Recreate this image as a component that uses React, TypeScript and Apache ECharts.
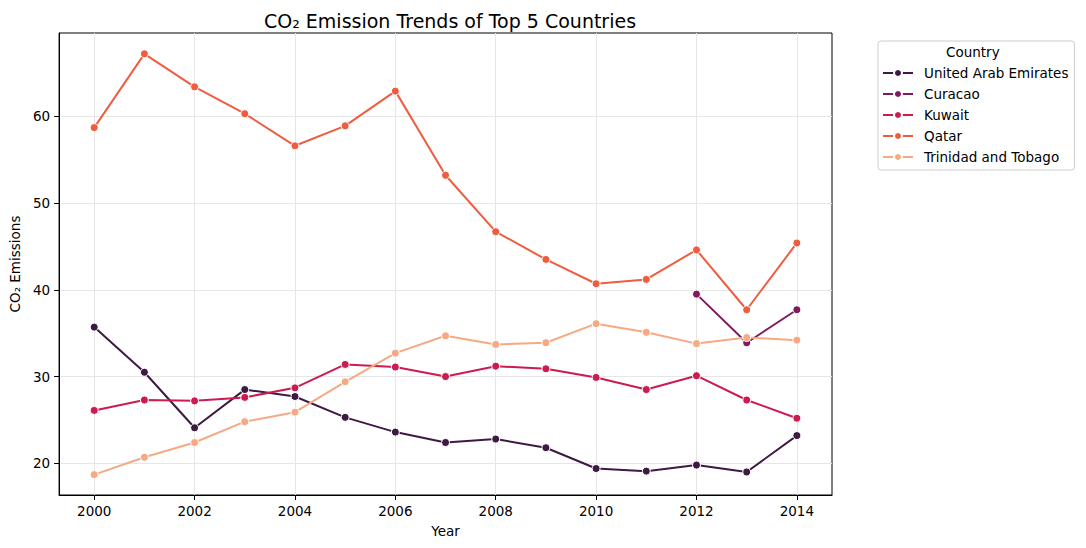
import React, { useEffect, useRef } from "react";
import * as echarts from "echarts";

const years = [2000, 2001, 2002, 2003, 2004, 2005, 2006, 2007, 2008, 2009, 2010, 2011, 2012, 2013, 2014];
const countries = ["United Arab Emirates", "Curacao", "Kuwait", "Qatar", "Trinidad and Tobago"];
const uae = [35.7, 30.5, 24.1, 28.5, 27.7, 25.3, 23.6, 22.4, 22.8, 21.8, 19.4, 19.1, 19.8, 19.0, 23.2];
const curacao = [null, null, null, null, null, null, null, null, null, null, null, null, 39.5, 33.9, 37.7];
const kuwait = [26.1, 27.3, 27.2, 27.6, 28.7, 31.4, 31.1, 30.0, 31.2, 30.9, 29.9, 28.5, 30.1, 27.3, 25.2];
const qatar = [58.7, 67.2, 63.4, 60.3, 56.6, 58.9, 62.9, 53.2, 46.7, 43.5, 40.7, 41.2, 44.6, 37.7, 45.4];
const trinidad = [18.7, 20.7, 22.4, 24.8, 25.9, 29.4, 32.7, 34.7, 33.7, 33.9, 36.1, 35.1, 33.8, 34.5, 34.2];
const colors = ["#3e1a43", "#7e1c5b", "#cb1b4f", "#ef5d41", "#f6a982"];
const xTicks = [2000, 2002, 2004, 2006, 2008, 2010, 2012, 2014];
const yTicks = [20, 30, 40, 50, 60];

const FONT = "DejaVu Sans";

export default function App() {
  const ref = useRef<HTMLDivElement>(null);
  useEffect(() => {
    if (!ref.current) return;
    const chart = echarts.init(ref.current, undefined, { renderer: "svg" });
    const allValues = [uae, curacao, kuwait, qatar, trinidad];
    const series = countries.map((name, i) => ({
      name,
      type: "line",
      data: years
        .map((y, j) => [y, allValues[i][j]])
        .filter((p) => p[1] !== null),
      symbol: "circle",
      symbolSize: 8,
      showSymbol: true,
      color: colors[i],
      lineStyle: { width: 2, color: colors[i] },
      itemStyle: { color: colors[i], borderColor: "#ffffff", borderWidth: 1 },
      emphasis: { disabled: true },
      z: 3,
    }));
    chart.setOption({
      animation: false,
      backgroundColor: "#ffffff",
      textStyle: { fontFamily: FONT },
      title: {
        text: "CO₂ Emission Trends of Top 5 Countries",
        left: 445,
        textAlign: "center",
        top: 6,
        textStyle: { fontFamily: FONT, fontSize: 19, fontWeight: "normal", color: "#000" },
      },
      grid: {
        left: 57.5,
        right: 254,
        top: 33,
        bottom: 53,
        show: true,
        borderColor: "#000",
        borderWidth: 1,
        backgroundColor: "transparent",
      },
      legend: {
        orient: "vertical",
        left: 878,
        top: 41,
        padding: [25, 6, 6, 4],
        itemWidth: 30,
        itemHeight: 10,
        itemGap: 7,
        borderColor: "#cccccc",
        borderWidth: 1,
        borderRadius: 3,
        backgroundColor: "rgba(255,255,255,0.8)",
        data: countries,
        textStyle: { fontFamily: FONT, fontSize: 13.5, color: "#000", padding: [0, 0, 0, 6] },
      },
      graphic: [
        {
          type: "text",
          left: 946,
          top: 45,
          style: { text: "Country", fontFamily: FONT, fontSize: 13.5, fill: "#000" },
          z: 10,
        },
      ],
      xAxis: {
        type: "value",
        min: 1999.3,
        max: 2014.7,
        splitNumber: 8,
        minInterval: 2,
        maxInterval: 2,
        name: "Year",
        nameLocation: "middle",
        nameGap: 29,
        nameTextStyle: { fontFamily: FONT, fontSize: 13.5, color: "#000" },
        axisLine: { show: true, lineStyle: { color: "#000", width: 1 } },
        axisTick: { show: true, length: 5, lineStyle: { color: "#000" }, customValues: xTicks },
        axisLabel: {
          fontFamily: FONT,
          fontSize: 13.5,
          color: "#000",
          margin: 9,
          customValues: xTicks,
          formatter: (v: number) => String(v),
        },
        splitLine: { show: true, lineStyle: { color: "#e6e6e6", width: 1 }, customValues: xTicks },
      },
      yAxis: {
        type: "value",
        min: 16.35,
        max: 69.6,
        splitNumber: 5,
        minInterval: 10,
        maxInterval: 10,
        name: "CO₂ Emissions",
        nameLocation: "middle",
        nameGap: 34,
        nameTextStyle: { fontFamily: FONT, fontSize: 13.5, color: "#000" },
        axisLine: { show: true, lineStyle: { color: "#000", width: 1 } },
        axisTick: { show: true, length: 5, lineStyle: { color: "#000" }, customValues: yTicks },
        axisLabel: {
          fontFamily: FONT,
          fontSize: 13.5,
          color: "#000",
          margin: 9,
          customValues: yTicks,
          formatter: (v: number) => String(v),
        },
        splitLine: { show: true, lineStyle: { color: "#e6e6e6", width: 1 }, customValues: yTicks },
      },
      series,
    });
    return () => chart.dispose();
  }, []);
  return (
    <div
      ref={ref}
      style={{ position: "fixed", left: 0, top: 0, width: 1086, height: 548, background: "#fff" }}
    />
  );
}
